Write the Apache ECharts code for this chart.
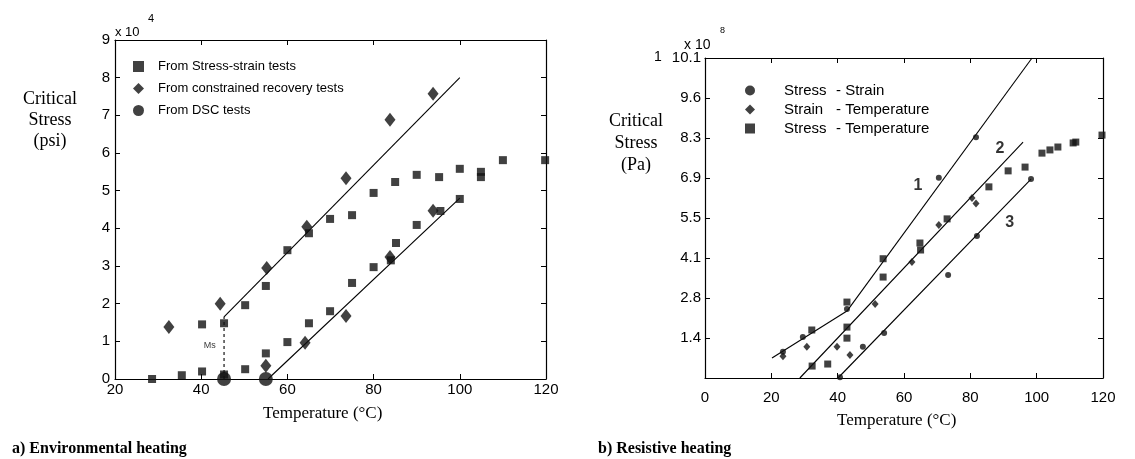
<!DOCTYPE html>
<html><head><meta charset="utf-8">
<script src="https://cdn.jsdelivr.net/npm/echarts@6/dist/echarts.min.js"></script>
<style>html,body{margin:0;padding:0;background:#fff}#c{width:1135px;height:459px}</style>
</head><body><div id="c"></div>
<script>
// ---------- Panel a) Environmental heating (stress in x10^4 psi) ----------
const aSquares = [[28.6,0],[35.5,0.1],[40.2,0.2],[40.2,1.45],[45.3,1.48],[45.3,0.12],[50.2,0.26],[50.2,1.96],
  [55,2.47],[55,0.68],[60,0.98],[60,3.42],[65,3.87],[65,1.48],[69.9,4.25],[75,4.35],[80,4.94],[85,5.23],
  [90,5.42],[95.2,5.36],[100,5.58],[104.9,5.5],[104.9,5.36],[110,5.81],[119.8,5.81],
  [69.9,1.8],[75,2.55],[80,2.97],[84,3.15],[85.2,3.61],[90,4.09],[100,4.78],[95.5,4.46]];
const aDiamonds = [[32.5,1.38],[44.4,2.0],[55.2,2.95],[55,0.35],[64.1,0.96],[64.5,4.04],[73.6,1.67],
  [73.6,5.33],[83.8,3.24],[83.8,6.88],[93.8,4.47],[93.8,7.57]];
const aDSC = [[45.3,0],[55,0]];
const aUpperFit = [[45.3,1.65],[100,8.0]];
const aLowerFit = [[55.5,0],[100,4.8]];
const aMsLine = [[45.3,0],[45.3,1.65]];
const aMsLabel = [[42.0,0.9,'Ms']];

// ---------- Panel b) Resistive heating (stress in x10^8 Pa) ----------
const bCircles = [[23.5,0.9],[29.5,1.41],[42.8,2.37],[70.5,6.88],[81.7,8.28],
  [40.7,0.03],[47.6,1.07],[54,1.55],[73.3,3.54],[82,4.88],[98.3,6.84]];
const bDiamonds = [[23.5,0.75],[30.7,1.07],[39.8,1.07],[43.7,0.79],[51.3,2.54],[62.4,3.99],
  [70.5,5.26],[80.5,6.19],[81.7,6.0]];
const bSquares = [[32.2,1.65],[32.3,0.41],[37,0.48],[42.8,2.61],[42.8,1.75],[42.8,1.37],[53.7,4.1],
  [53.7,3.47],[64.8,4.64],[65,4.4],[73,5.47],[85.6,6.57],[91.4,7.12],[96.5,7.25],[101.6,7.73],
  [104,7.84],[106.4,7.94],[111,8.08],[111.8,8.11],[119.7,8.35]];
const bLine1a = [[20.2,0.69],[42.8,2.3]];
const bLine1b = [[42.8,2.3],[98.6,11.0]];
const bLine2 = [[28.6,0],[95.9,8.11]];
const bLine3 = [[40.1,0],[98.3,6.84]];
const bLineLabels = [[64.2,6.6,'1'],[88.9,7.87,'2'],[91.9,5.33,'3']];
const bYTickLabels = ['', '1.4', '2.8', '4.1', '5.5', '6.9', '8.3', '9.6', '10.1'];
const bYStep = 1.375;

const SANS = '"Liberation Sans", Arial, sans-serif';
const SERIF = '"Liberation Serif", "Times New Roman", serif';
const K = '#000';
const M = '#111';

function axisCommon(extra) {
  return Object.assign({
    type: 'value',
    axisLine: { show: true, onZero: false, lineStyle: { color: K, width: 1.2 } },
    axisTick: { show: true, inside: true, length: 5, lineStyle: { color: K } },
    splitLine: { show: false },
    axisLabel: { color: K, fontFamily: SANS, fontSize: 15 }
  }, extra);
}
function lineSeries(data, xi, yi, dashed) {
  return { type: 'line', data: data, xAxisIndex: xi, yAxisIndex: yi, symbol: 'none', silent: true,
    lineStyle: { color: K, width: 1.1, type: dashed ? [3, 3] : 'solid' }, z: 3, animation: false };
}
function labelSeries(data, xi, yi, size, weight) {
  return { type: 'scatter', data: data, xAxisIndex: xi, yAxisIndex: yi, symbolSize: 0, silent: true,
    label: { show: true, position: 'inside', formatter: p => p.value[2], color: K,
      fontFamily: SANS, fontSize: size, fontWeight: weight }, animation: false };
}

const chart = echarts.init(document.getElementById('c'));
chart.setOption({
  backgroundColor: '#fff',
  animation: false,
  grid: [
    { left: 115, top: 40, width: 431, height: 339 },
    { left: 705, top: 58, width: 398, height: 320 }
  ],
  xAxis: [
    axisCommon({ gridIndex: 0, min: 20, max: 120, interval: 20, axisLabel: { color: K, fontFamily: SANS, fontSize: 15, margin: 3 } }),
    axisCommon({ gridIndex: 0, min: 20, max: 120, interval: 20, position: 'top', axisLabel: { show: false } }),
    axisCommon({ gridIndex: 1, min: 0, max: 120, interval: 20, axisLabel: { color: K, fontFamily: SANS, fontSize: 15, margin: 12 } }),
    axisCommon({ gridIndex: 1, min: 0, max: 120, interval: 20, position: 'top', axisLabel: { show: false } })
  ],
  yAxis: [
    axisCommon({ gridIndex: 0, min: 0, max: 9, interval: 1, axisLabel: { color: K, fontFamily: SANS, fontSize: 15, margin: 5 } }),
    axisCommon({ gridIndex: 0, min: 0, max: 9, interval: 1, position: 'right', axisLabel: { show: false } }),
    axisCommon({ gridIndex: 1, min: 0, max: 11, interval: bYStep,
      axisLabel: { color: K, fontFamily: SANS, fontSize: 15, margin: 4,
        formatter: v => bYTickLabels[Math.round(v / bYStep)] } }),
    axisCommon({ gridIndex: 1, min: 0, max: 11, interval: bYStep, position: 'right', axisLabel: { show: false } })
  ],
  legend: [
    { orient: 'vertical', left: 128, top: 55, itemWidth: 11, itemHeight: 11, itemGap: 9,
      textStyle: { fontFamily: SANS, fontSize: 13, color: K, padding: [0, 0, 0, 9] },
      data: [{ name: 'From Stress-strain tests', icon: 'rect' },
             { name: 'From constrained recovery tests', icon: 'diamond' },
             { name: 'From DSC tests', icon: 'circle' }] },
    { orient: 'vertical', left: 740, top: 78, itemWidth: 10, itemHeight: 10, itemGap: 4,
      textStyle: { fontFamily: SANS, fontSize: 15, color: K, padding: [0, 0, 0, 24],
        rich: { a: { width: 52, fontFamily: SANS, fontSize: 15, color: K } } },
      formatter: n => { const p = n.split(' - '); return '{a|' + p[0] + '}- ' + p[1]; },
      data: [{ name: 'Stress - Strain', icon: 'circle' },
             { name: 'Strain - Temperature', icon: 'diamond' },
             { name: 'Stress - Temperature', icon: 'rect' }] }
  ],
  series: [
    lineSeries(aUpperFit, 0, 0), lineSeries(aLowerFit, 0, 0), lineSeries(aMsLine, 0, 0, true),
    { name: 'From Stress-strain tests', type: 'scatter', data: aSquares, xAxisIndex: 0, yAxisIndex: 0,
      symbol: 'rect', symbolSize: [8, 8], itemStyle: { color: M }, z: 4 },
    { name: 'From constrained recovery tests', type: 'scatter', data: aDiamonds, xAxisIndex: 0, yAxisIndex: 0,
      symbol: 'diamond', symbolSize: [11, 14], itemStyle: { color: M }, z: 4 },
    { name: 'From DSC tests', type: 'scatter', data: aDSC, xAxisIndex: 0, yAxisIndex: 0,
      symbol: 'circle', symbolSize: 14, itemStyle: { color: M }, z: 5 },
    labelSeries(aMsLabel, 0, 0, 9, 'normal'),

    lineSeries(bLine1a, 2, 2), lineSeries(bLine1b, 2, 2), lineSeries(bLine2, 2, 2), lineSeries(bLine3, 2, 2),
    { name: 'Stress - Strain', type: 'scatter', data: bCircles, xAxisIndex: 2, yAxisIndex: 2,
      symbol: 'circle', symbolSize: 6, itemStyle: { color: M }, z: 4 },
    { name: 'Strain - Temperature', type: 'scatter', data: bDiamonds, xAxisIndex: 2, yAxisIndex: 2,
      symbol: 'diamond', symbolSize: [7, 8], itemStyle: { color: M }, z: 4 },
    { name: 'Stress - Temperature', type: 'scatter', data: bSquares, xAxisIndex: 2, yAxisIndex: 2,
      symbol: 'rect', symbolSize: 7, itemStyle: { color: M }, z: 4 },
    labelSeries(bLineLabels, 2, 2, 16, 'bold')
  ],
  graphic: [
    { type: 'text', left: 115, top: 26, style: { text: 'x 10', font: '13px ' + SANS, fill: K } },
    { type: 'text', left: 148, top: 13, style: { text: '4', font: '11px ' + SANS, fill: K } },
    { type: 'text', left: 684, top: 38, style: { text: 'x 10', font: '14px ' + SANS, fill: K } },
    { type: 'text', left: 720, top: 26, style: { text: '8', font: '9px ' + SANS, fill: K } },
    { type: 'text', left: 654, top: 50, style: { text: '1', font: '14px ' + SANS, fill: K } },
    { type: 'text', x: 50, y: 89, style: { text: 'Critical\nStress\n(psi)', fontFamily: SERIF, fontSize: 18,
      fill: K, align: 'center', verticalAlign: 'top', lineHeight: 21 } },
    { type: 'text', x: 636, y: 110, style: { text: 'Critical\nStress\n(Pa)', fontFamily: SERIF, fontSize: 18,
      fill: K, align: 'center', verticalAlign: 'top', lineHeight: 22 } },
    { type: 'text', left: 263, top: 405, style: { text: 'Temperature (°C)', fontFamily: SERIF, fontSize: 17, fill: K } },
    { type: 'text', left: 837, top: 412, style: { text: 'Temperature (°C)', fontFamily: SERIF, fontSize: 17, fill: K } },
    { type: 'text', left: 12, top: 441, style: { text: 'a) Environmental heating', fontFamily: SERIF, fontSize: 16, fontWeight: 'bold', fill: K } },
    { type: 'text', left: 598, top: 441, style: { text: 'b) Resistive heating', fontFamily: SERIF, fontSize: 16, fontWeight: 'bold', fill: K } }
  ]
});
</script></body></html>
